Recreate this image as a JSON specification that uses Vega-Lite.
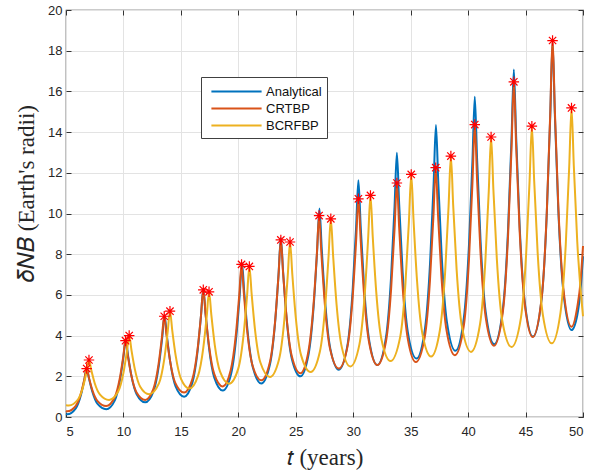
{
  "$schema": "https://vega.github.io/schema/vega-lite/v6.json",
  "width": 517,
  "height": 407,
  "autosize": {"type": "none"},
  "padding": {"left": 66, "top": 10, "right": 8, "bottom": 55},
  "background": "white",
  "config": {
    "view": {"stroke": "#333333", "strokeWidth": 1.2},
    "axis": {
      "labelFont": "Liberation Sans",
      "labelFontSize": 13,
      "labelColor": "#262626",
      "tickColor": "#333333",
      "tickSize": -5,
      "domain": false,
      "gridColor": "#e3e3e3",
      "gridWidth": 1,
      "titleFont": "Liberation Serif",
      "titleFontSize": 23,
      "titleFontWeight": "normal",
      "titleColor": "#262626"
    }
  },
  "datasets": {
    "curves": [
      {"s":"Analytical","t":5,"v":0.14},{"s":"Analytical","t":5.1,"v":0.13},{"s":"Analytical","t":5.85,"v":0.425},{"s":"Analytical","t":6.3,"v":1.08},{"s":"Analytical","t":6.6,"v":1.83},{"s":"Analytical","t":6.8,"v":2.4},{"s":"Analytical","t":7.0,"v":1.9},{"s":"Analytical","t":7.3,"v":1.23},{"s":"Analytical","t":7.75,"v":0.64},{"s":"Analytical","t":8.5,"v":0.38},
      {"s":"Analytical","t":9.25,"v":0.82},{"s":"Analytical","t":9.7,"v":1.82},{"s":"Analytical","t":10.0,"v":2.95},{"s":"Analytical","t":10.2,"v":3.8},{"s":"Analytical","t":10.4,"v":3.03},{"s":"Analytical","t":10.7,"v":2.01},{"s":"Analytical","t":11.15,"v":1.12},{"s":"Analytical","t":11.9,"v":0.72},
      {"s":"Analytical","t":12.63,"v":1.28},{"s":"Analytical","t":13.08,"v":2.52},{"s":"Analytical","t":13.38,"v":3.93},{"s":"Analytical","t":13.58,"v":5.0},{"s":"Analytical","t":13.78,"v":4.0},{"s":"Analytical","t":14.08,"v":2.68},{"s":"Analytical","t":14.53,"v":1.52},{"s":"Analytical","t":15.28,"v":1.0},
      {"s":"Analytical","t":16.0,"v":1.69},{"s":"Analytical","t":16.45,"v":3.23},{"s":"Analytical","t":16.75,"v":4.98},{"s":"Analytical","t":16.95,"v":6.3},{"s":"Analytical","t":17.15,"v":5.05},{"s":"Analytical","t":17.45,"v":3.4},{"s":"Analytical","t":17.9,"v":1.95},{"s":"Analytical","t":18.65,"v":1.3},
      {"s":"Analytical","t":19.37,"v":2.11},{"s":"Analytical","t":19.82,"v":3.93},{"s":"Analytical","t":20.12,"v":5.99},{"s":"Analytical","t":20.32,"v":7.55},{"s":"Analytical","t":20.52,"v":6.08},{"s":"Analytical","t":20.82,"v":4.13},{"s":"Analytical","t":21.27,"v":2.42},{"s":"Analytical","t":22.0,"v":1.65},
      {"s":"Analytical","t":22.75,"v":2.58},{"s":"Analytical","t":23.2,"v":4.65},{"s":"Analytical","t":23.5,"v":7.01},{"s":"Analytical","t":23.7,"v":8.8},{"s":"Analytical","t":23.9,"v":7.1},{"s":"Analytical","t":24.2,"v":4.86},{"s":"Analytical","t":24.65,"v":2.88},{"s":"Analytical","t":25.4,"v":2.0},
      {"s":"Analytical","t":26.11,"v":3.07},{"s":"Analytical","t":26.56,"v":5.47},{"s":"Analytical","t":26.86,"v":8.19},{"s":"Analytical","t":27.06,"v":10.25},{"s":"Analytical","t":27.26,"v":8.27},{"s":"Analytical","t":27.56,"v":5.65},{"s":"Analytical","t":28.01,"v":3.35},{"s":"Analytical","t":28.75,"v":2.32},
      {"s":"Analytical","t":29.5,"v":3.53},{"s":"Analytical","t":29.95,"v":6.23},{"s":"Analytical","t":30.25,"v":9.31},{"s":"Analytical","t":30.45,"v":11.64},{"s":"Analytical","t":30.65,"v":9.37},{"s":"Analytical","t":30.95,"v":6.37},{"s":"Analytical","t":31.4,"v":3.73},{"s":"Analytical","t":32.1,"v":2.55},
      {"s":"Analytical","t":32.85,"v":3.91},{"s":"Analytical","t":33.3,"v":6.93},{"s":"Analytical","t":33.6,"v":10.37},{"s":"Analytical","t":33.8,"v":12.98},{"s":"Analytical","t":34.0,"v":10.45},{"s":"Analytical","t":34.3,"v":7.12},{"s":"Analytical","t":34.75,"v":4.18},{"s":"Analytical","t":35.5,"v":2.87},
      {"s":"Analytical","t":36.25,"v":4.36},{"s":"Analytical","t":36.7,"v":7.69},{"s":"Analytical","t":37.0,"v":11.48},{"s":"Analytical","t":37.2,"v":14.35},{"s":"Analytical","t":37.4,"v":11.58},{"s":"Analytical","t":37.7,"v":7.91},{"s":"Analytical","t":38.15,"v":4.69},{"s":"Analytical","t":38.9,"v":3.25},
      {"s":"Analytical","t":39.63,"v":4.87},{"s":"Analytical","t":40.08,"v":8.5},{"s":"Analytical","t":40.38,"v":12.62},{"s":"Analytical","t":40.58,"v":15.74},{"s":"Analytical","t":40.78,"v":12.7},{"s":"Analytical","t":41.08,"v":8.69},{"s":"Analytical","t":41.53,"v":5.16},{"s":"Analytical","t":42.27,"v":3.58},
      {"s":"Analytical","t":43.03,"v":5.34},{"s":"Analytical","t":43.48,"v":9.25},{"s":"Analytical","t":43.78,"v":13.71},{"s":"Analytical","t":43.98,"v":17.08},{"s":"Analytical","t":44.18,"v":13.8},{"s":"Analytical","t":44.48,"v":9.46},{"s":"Analytical","t":44.93,"v":5.66},{"s":"Analytical","t":45.65,"v":3.95},
      {"s":"Analytical","t":46.4,"v":5.83},{"s":"Analytical","t":46.85,"v":10.02},{"s":"Analytical","t":47.15,"v":14.79},{"s":"Analytical","t":47.35,"v":18.4},{"s":"Analytical","t":47.55,"v":14.87},{"s":"Analytical","t":47.85,"v":10.2},{"s":"Analytical","t":48.3,"v":6.11},{"s":"Analytical","t":49.0,"v":4.27},
      {"s":"Analytical","t":49.5,"v":5.0},{"s":"Analytical","t":49.78,"v":6.2},{"s":"Analytical","t":50,"v":7.9},

      {"s":"CRTBP","t":5,"v":0.3},{"s":"CRTBP","t":5.1,"v":0.28},{"s":"CRTBP","t":5.85,"v":0.55},{"s":"CRTBP","t":6.3,"v":1.16},{"s":"CRTBP","t":6.6,"v":1.86},{"s":"CRTBP","t":6.8,"v":2.38},{"s":"CRTBP","t":7.0,"v":1.92},{"s":"CRTBP","t":7.3,"v":1.31},{"s":"CRTBP","t":7.75,"v":0.78},{"s":"CRTBP","t":8.5,"v":0.54},
      {"s":"CRTBP","t":9.23,"v":0.96},{"s":"CRTBP","t":9.68,"v":1.89},{"s":"CRTBP","t":9.98,"v":2.95},{"s":"CRTBP","t":10.18,"v":3.75},{"s":"CRTBP","t":10.38,"v":3.02},{"s":"CRTBP","t":10.68,"v":2.06},{"s":"CRTBP","t":11.13,"v":1.22},{"s":"CRTBP","t":11.9,"v":0.84},
      {"s":"CRTBP","t":12.6,"v":1.37},{"s":"CRTBP","t":13.05,"v":2.57},{"s":"CRTBP","t":13.35,"v":3.92},{"s":"CRTBP","t":13.55,"v":4.95},{"s":"CRTBP","t":13.75,"v":4.01},{"s":"CRTBP","t":14.05,"v":2.78},{"s":"CRTBP","t":14.5,"v":1.69},{"s":"CRTBP","t":15.28,"v":1.2},
      {"s":"CRTBP","t":16.0,"v":1.86},{"s":"CRTBP","t":16.45,"v":3.32},{"s":"CRTBP","t":16.75,"v":4.99},{"s":"CRTBP","t":16.95,"v":6.25},{"s":"CRTBP","t":17.15,"v":5.06},{"s":"CRTBP","t":17.45,"v":3.5},{"s":"CRTBP","t":17.9,"v":2.12},{"s":"CRTBP","t":18.65,"v":1.5},
      {"s":"CRTBP","t":19.33,"v":2.28},{"s":"CRTBP","t":19.78,"v":4.02},{"s":"CRTBP","t":20.08,"v":6.0},{"s":"CRTBP","t":20.28,"v":7.5},{"s":"CRTBP","t":20.48,"v":6.08},{"s":"CRTBP","t":20.78,"v":4.19},{"s":"CRTBP","t":21.23,"v":2.54},{"s":"CRTBP","t":22.0,"v":1.8},
      {"s":"CRTBP","t":22.75,"v":2.7},{"s":"CRTBP","t":23.2,"v":4.7},{"s":"CRTBP","t":23.5,"v":6.98},{"s":"CRTBP","t":23.7,"v":8.7},{"s":"CRTBP","t":23.9,"v":7.06},{"s":"CRTBP","t":24.2,"v":4.9},{"s":"CRTBP","t":24.65,"v":3.0},{"s":"CRTBP","t":25.4,"v":2.15},
      {"s":"CRTBP","t":26.08,"v":3.16},{"s":"CRTBP","t":26.53,"v":5.41},{"s":"CRTBP","t":26.83,"v":7.96},{"s":"CRTBP","t":27.03,"v":9.9},{"s":"CRTBP","t":27.23,"v":8.02},{"s":"CRTBP","t":27.53,"v":5.54},{"s":"CRTBP","t":27.98,"v":3.36},{"s":"CRTBP","t":28.75,"v":2.38},
      {"s":"CRTBP","t":29.5,"v":3.46},{"s":"CRTBP","t":29.95,"v":5.88},{"s":"CRTBP","t":30.25,"v":8.64},{"s":"CRTBP","t":30.45,"v":10.72},{"s":"CRTBP","t":30.65,"v":8.68},{"s":"CRTBP","t":30.95,"v":5.98},{"s":"CRTBP","t":31.4,"v":3.61},{"s":"CRTBP","t":32.1,"v":2.55},
      {"s":"CRTBP","t":32.85,"v":3.71},{"s":"CRTBP","t":33.3,"v":6.31},{"s":"CRTBP","t":33.6,"v":9.26},{"s":"CRTBP","t":33.8,"v":11.5},{"s":"CRTBP","t":34.0,"v":9.3},{"s":"CRTBP","t":34.3,"v":6.4},{"s":"CRTBP","t":34.75,"v":3.84},{"s":"CRTBP","t":35.45,"v":2.7},
      {"s":"CRTBP","t":36.23,"v":3.94},{"s":"CRTBP","t":36.68,"v":6.71},{"s":"CRTBP","t":36.98,"v":9.86},{"s":"CRTBP","t":37.18,"v":12.25},{"s":"CRTBP","t":37.38,"v":9.95},{"s":"CRTBP","t":37.68,"v":6.9},{"s":"CRTBP","t":38.13,"v":4.23},{"s":"CRTBP","t":38.85,"v":3.03},
      {"s":"CRTBP","t":39.63,"v":4.5},{"s":"CRTBP","t":40.08,"v":7.79},{"s":"CRTBP","t":40.38,"v":11.54},{"s":"CRTBP","t":40.58,"v":14.37},{"s":"CRTBP","t":40.78,"v":11.65},{"s":"CRTBP","t":41.08,"v":8.07},{"s":"CRTBP","t":41.53,"v":4.91},{"s":"CRTBP","t":42.25,"v":3.5},
      {"s":"CRTBP","t":43.03,"v":5.19},{"s":"CRTBP","t":43.48,"v":8.95},{"s":"CRTBP","t":43.78,"v":13.23},{"s":"CRTBP","t":43.98,"v":16.47},{"s":"CRTBP","t":44.18,"v":13.34},{"s":"CRTBP","t":44.48,"v":9.2},{"s":"CRTBP","t":44.93,"v":5.56},{"s":"CRTBP","t":45.62,"v":3.93},
      {"s":"CRTBP","t":46.4,"v":5.84},{"s":"CRTBP","t":46.85,"v":10.09},{"s":"CRTBP","t":47.15,"v":14.93},{"s":"CRTBP","t":47.35,"v":18.6},{"s":"CRTBP","t":47.55,"v":15.06},{"s":"CRTBP","t":47.85,"v":10.38},{"s":"CRTBP","t":48.3,"v":6.27},{"s":"CRTBP","t":49.0,"v":4.43},
      {"s":"CRTBP","t":49.5,"v":5.4},{"s":"CRTBP","t":49.78,"v":6.6},{"s":"CRTBP","t":50,"v":8.4},

      {"s":"BCRFBP","t":5,"v":0.58},{"s":"BCRFBP","t":5.25,"v":0.57},{"s":"BCRFBP","t":6.04,"v":0.86},{"s":"BCRFBP","t":6.5,"v":1.51},{"s":"BCRFBP","t":6.8,"v":2.24},{"s":"BCRFBP","t":7.0,"v":2.8},{"s":"BCRFBP","t":7.2,"v":2.31},{"s":"BCRFBP","t":7.5,"v":1.66},{"s":"BCRFBP","t":7.96,"v":1.1},{"s":"BCRFBP","t":8.75,"v":0.84},
      {"s":"BCRFBP","t":9.54,"v":1.25},{"s":"BCRFBP","t":10.0,"v":2.17},{"s":"BCRFBP","t":10.3,"v":3.21},{"s":"BCRFBP","t":10.5,"v":4.0},{"s":"BCRFBP","t":10.7,"v":3.28},{"s":"BCRFBP","t":11.0,"v":2.33},{"s":"BCRFBP","t":11.46,"v":1.49},{"s":"BCRFBP","t":12.24,"v":1.12},
      {"s":"BCRFBP","t":13.09,"v":1.65},{"s":"BCRFBP","t":13.55,"v":2.83},{"s":"BCRFBP","t":13.85,"v":4.18},{"s":"BCRFBP","t":14.05,"v":5.2},{"s":"BCRFBP","t":14.25,"v":4.25},{"s":"BCRFBP","t":14.55,"v":3.0},{"s":"BCRFBP","t":15.0,"v":1.89},{"s":"BCRFBP","t":15.75,"v":1.4},
      {"s":"BCRFBP","t":16.49,"v":2.02},{"s":"BCRFBP","t":16.95,"v":3.4},{"s":"BCRFBP","t":17.25,"v":4.96},{"s":"BCRFBP","t":17.45,"v":6.15},{"s":"BCRFBP","t":17.65,"v":5.02},{"s":"BCRFBP","t":17.95,"v":3.53},{"s":"BCRFBP","t":18.41,"v":2.23},{"s":"BCRFBP","t":19.2,"v":1.64},
      {"s":"BCRFBP","t":20.0,"v":2.39},{"s":"BCRFBP","t":20.46,"v":4.06},{"s":"BCRFBP","t":20.76,"v":5.96},{"s":"BCRFBP","t":20.96,"v":7.4},{"s":"BCRFBP","t":21.16,"v":6.04},{"s":"BCRFBP","t":21.46,"v":4.25},{"s":"BCRFBP","t":21.92,"v":2.68},{"s":"BCRFBP","t":22.75,"v":1.97},
      {"s":"BCRFBP","t":23.54,"v":2.83},{"s":"BCRFBP","t":24.0,"v":4.75},{"s":"BCRFBP","t":24.3,"v":6.94},{"s":"BCRFBP","t":24.5,"v":8.6},{"s":"BCRFBP","t":24.7,"v":7.0},{"s":"BCRFBP","t":25.0,"v":4.89},{"s":"BCRFBP","t":25.46,"v":3.04},{"s":"BCRFBP","t":26.3,"v":2.21},
      {"s":"BCRFBP","t":27.09,"v":3.19},{"s":"BCRFBP","t":27.55,"v":5.37},{"s":"BCRFBP","t":27.85,"v":7.86},{"s":"BCRFBP","t":28.05,"v":9.74},{"s":"BCRFBP","t":28.25,"v":7.93},{"s":"BCRFBP","t":28.55,"v":5.53},{"s":"BCRFBP","t":29.01,"v":3.42},{"s":"BCRFBP","t":29.75,"v":2.48},
      {"s":"BCRFBP","t":30.54,"v":3.57},{"s":"BCRFBP","t":31.0,"v":6.01},{"s":"BCRFBP","t":31.3,"v":8.79},{"s":"BCRFBP","t":31.5,"v":10.89},{"s":"BCRFBP","t":31.7,"v":8.85},{"s":"BCRFBP","t":32.0,"v":6.17},{"s":"BCRFBP","t":32.46,"v":3.81},{"s":"BCRFBP","t":33.25,"v":2.75},
      {"s":"BCRFBP","t":34.09,"v":3.94},{"s":"BCRFBP","t":34.55,"v":6.6},{"s":"BCRFBP","t":34.85,"v":9.63},{"s":"BCRFBP","t":35.05,"v":11.92},{"s":"BCRFBP","t":35.25,"v":9.68},{"s":"BCRFBP","t":35.55,"v":6.73},{"s":"BCRFBP","t":36.01,"v":4.13},{"s":"BCRFBP","t":36.78,"v":2.97},
      {"s":"BCRFBP","t":37.54,"v":4.25},{"s":"BCRFBP","t":38.0,"v":7.11},{"s":"BCRFBP","t":38.3,"v":10.36},{"s":"BCRFBP","t":38.5,"v":12.82},{"s":"BCRFBP","t":38.7,"v":10.42},{"s":"BCRFBP","t":39.0,"v":7.24},{"s":"BCRFBP","t":39.46,"v":4.45},{"s":"BCRFBP","t":40.25,"v":3.2},
      {"s":"BCRFBP","t":41.04,"v":4.57},{"s":"BCRFBP","t":41.5,"v":7.64},{"s":"BCRFBP","t":41.8,"v":11.12},{"s":"BCRFBP","t":42.0,"v":13.76},{"s":"BCRFBP","t":42.2,"v":11.18},{"s":"BCRFBP","t":42.5,"v":7.77},{"s":"BCRFBP","t":42.96,"v":4.78},{"s":"BCRFBP","t":43.78,"v":3.44},
      {"s":"BCRFBP","t":44.59,"v":4.85},{"s":"BCRFBP","t":45.05,"v":8.0},{"s":"BCRFBP","t":45.35,"v":11.58},{"s":"BCRFBP","t":45.55,"v":14.29},{"s":"BCRFBP","t":45.75,"v":11.62},{"s":"BCRFBP","t":46.05,"v":8.1},{"s":"BCRFBP","t":46.51,"v":5.01},{"s":"BCRFBP","t":47.28,"v":3.62},
      {"s":"BCRFBP","t":48.04,"v":5.12},{"s":"BCRFBP","t":48.5,"v":8.48},{"s":"BCRFBP","t":48.8,"v":12.3},{"s":"BCRFBP","t":49.0,"v":15.19},{"s":"BCRFBP","t":49.2,"v":12.35},{"s":"BCRFBP","t":49.5,"v":8.61},{"s":"BCRFBP","t":50,"v":4.95}
    ],
    "stars": [
      {"t":6.8,"v":2.38},{"t":10.18,"v":3.75},{"t":13.55,"v":4.95},{"t":16.95,"v":6.25},{"t":20.28,"v":7.5},{"t":23.7,"v":8.7},{"t":27.03,"v":9.9},{"t":30.45,"v":10.72},{"t":33.8,"v":11.5},{"t":37.18,"v":12.25},{"t":40.58,"v":14.37},{"t":43.98,"v":16.47},{"t":47.35,"v":18.5},
      {"t":7.0,"v":2.8},{"t":10.5,"v":4.0},{"t":14.05,"v":5.2},{"t":17.45,"v":6.15},{"t":20.96,"v":7.4},{"t":24.5,"v":8.6},{"t":28.05,"v":9.74},{"t":31.5,"v":10.89},{"t":35.05,"v":11.92},{"t":38.5,"v":12.82},{"t":42.0,"v":13.76},{"t":45.55,"v":14.29},{"t":49.0,"v":15.19}
    ]
  },
  "resolve": {"axis": {"x": "independent", "y": "independent"}},
  "layer": [
    {
      "data": {"name": "curves"},
      "transform": [{"filter": "datum.s === 'Analytical'"}],
      "mark": {"type": "line", "strokeWidth": 2, "interpolate": "monotone"},
      "encoding": {
        "x": {"field": "t", "type": "quantitative", "scale": {"domain": [5, 50], "nice": false, "zero": false},
              "axis": {"orient": "bottom", "values": [5,10,15,20,25,30,35,40,45,50], "grid": true, "title": "𝑡 (years)", "labelPadding": 13, "titleX": 258.5, "titleY": 40, "titleBaseline": "middle", "titleAlign": "center"}},
        "y": {"field": "v", "type": "quantitative", "scale": {"domain": [0, 20], "nice": false},
              "axis": {"orient": "left", "values": [0,2,4,6,8,10,12,14,16,18,20], "grid": true, "title": "𝛿𝑁𝐵 (Earth's radii)", "labelPadding": 9, "titleX": -40, "titleY": 183, "titleBaseline": "middle", "titleAlign": "center", "titleAngle": -90}},
        "color": {"field": "s", "type": "nominal",
                  "scale": {"domain": ["Analytical", "CRTBP", "BCRFBP"], "range": ["#0072BD", "#D95319", "#EDB120"]},
                  "legend": {"orient": "none", "legendX": 135, "legendY": 67, "title": null,
                             "symbolType": "M-3,0L3,0", "symbolSize": 280, "symbolStrokeWidth": 2, "symbolOffset": 21, "labelOffset": 20,
                             "labelFont": "Liberation Sans", "labelFontSize": 13, "labelColor": "#111111",
                             "strokeColor": "#404040", "fillColor": "white", "padding": 5, "rowPadding": 0}}
      }
    },
    {
      "data": {"name": "curves"},
      "transform": [{"filter": "datum.s === 'CRTBP'"}],
      "mark": {"type": "line", "strokeWidth": 2, "interpolate": "monotone"},
      "encoding": {
        "x": {"field": "t", "type": "quantitative", "axis": null},
        "y": {"field": "v", "type": "quantitative", "axis": null},
        "color": {"field": "s", "type": "nominal"}
      }
    },
    {
      "data": {"name": "curves"},
      "transform": [{"filter": "datum.s === 'BCRFBP'"}],
      "mark": {"type": "line", "strokeWidth": 2, "interpolate": "monotone"},
      "encoding": {
        "x": {"field": "t", "type": "quantitative", "axis": null},
        "y": {"field": "v", "type": "quantitative", "axis": null},
        "color": {"field": "s", "type": "nominal"}
      }
    },
    {
      "data": {"name": "stars"},
      "mark": {"type": "point", "shape": "M-1,0L1,0M0,-1L0,1M-0.7,-0.7L0.7,0.7M-0.7,0.7L0.7,-0.7", "filled": false, "color": "#FF0000", "size": 110, "strokeWidth": 1.2, "opacity": 1},
      "encoding": {
        "x": {"field": "t", "type": "quantitative", "axis": {"orient": "top", "values": [5,10,15,20,25,30,35,40,45,50], "labels": false, "grid": false, "title": null}},
        "y": {"field": "v", "type": "quantitative", "axis": {"orient": "right", "values": [0,2,4,6,8,10,12,14,16,18,20], "labels": false, "grid": false, "title": null}}
      }
    }
  ]
}
